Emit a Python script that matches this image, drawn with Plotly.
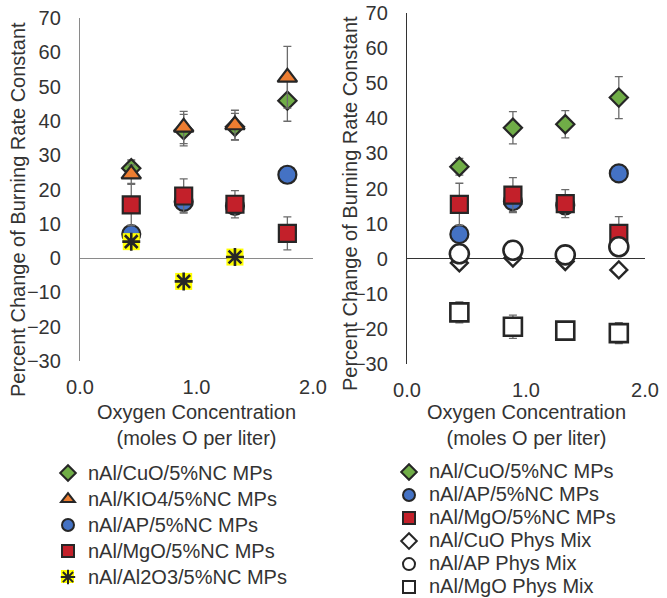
import plotly.graph_objects as go

# ---------------- data ----------------
oxygen_conc = [0.44, 0.89, 1.33, 1.78]

cuo_mp = [26.2, 37.3, 38.3, 45.9]
cuo_mp_err = [2.4, 4.6, 3.9, 6.0]
kio4_mp = [24.5, 38.1, 38.8, 52.7]
kio4_mp_err = [2.7, 4.7, 4.3, 9.0]
ap_mp = [7.0, 16.4, 15.2, 24.3]
ap_mp_err = [1.0, 3.0, 1.5, 1.5]
mgo_mp = [15.5, 18.1, 15.7, 7.2]
mgo_mp_err = [6.0, 5.0, 4.0, 4.8]
al2o3_mp = [4.8, -6.8, 0.3]

cuo_phys = [-1.2, 0.2, -0.8, -3.2]
ap_phys = [1.4, 2.4, 1.1, 3.4]
mgo_phys = [-15.3, -19.4, -20.5, -21.2]
mgo_phys_err = [3.0, 3.3, 1.0, 3.0]

names_left = ["nAl/CuO/5%NC MPs", "nAl/KIO4/5%NC MPs", "nAl/AP/5%NC MPs",
              "nAl/MgO/5%NC MPs", "nAl/Al2O3/5%NC MPs"]
names_right = ["nAl/CuO/5%NC MPs", "nAl/AP/5%NC MPs", "nAl/MgO/5%NC MPs",
               "nAl/CuO Phys Mix", "nAl/AP Phys Mix", "nAl/MgO Phys Mix"]

x_ticks = [0.0, 1.0, 2.0]
y_ticks = list(range(-30, 80, 10))
y_title = "Percent Change of Burning Rate Constant"
x_title = "Oxygen Concentration<br>(moles O per liter)"

# ---------------- style ----------------
FONT = "Liberation Sans, Arial, sans-serif"
TXT = "#333333"
EDGE = "#262626"
GREEN, ORANGE, BLUE, RED, YELLOW = "#70AD47", "#ED7D31", "#4472C4", "#C3202A", "#FFFF00"
ERRC = "#6b6b6b"

W, H = 667, 598


def err(arr):
    return dict(type="data", array=arr, visible=True, color=ERRC, thickness=1.3, width=4)


def span(t):
    return '<span style="font-size:20px">' + t + '</span>'


fig = go.Figure()

# left chart
fig.add_trace(go.Scatter(x=oxygen_conc, y=cuo_mp, mode="markers", name=span(names_left[0]),
                         error_y=err(cuo_mp_err), legend="legend", xaxis="x", yaxis="y",
                         marker=dict(symbol="diamond", size=14, color=GREEN, line=dict(color=EDGE, width=2.2))))
fig.add_trace(go.Scatter(x=oxygen_conc, y=kio4_mp, mode="markers", name=span(names_left[1]),
                         error_y=err(kio4_mp_err), legend="legend", xaxis="x", yaxis="y",
                         marker=dict(symbol="triangle-up", size=17, color=ORANGE, line=dict(color=EDGE, width=2.2))))
fig.add_trace(go.Scatter(x=oxygen_conc, y=ap_mp, mode="markers", name=span(names_left[2]),
                         error_y=err(ap_mp_err), legend="legend", xaxis="x", yaxis="y",
                         marker=dict(symbol="circle", size=18, color=BLUE, line=dict(color=EDGE, width=2.2))))
fig.add_trace(go.Scatter(x=oxygen_conc, y=mgo_mp, mode="markers", name=span(names_left[3]),
                         error_y=err(mgo_mp_err), legend="legend", xaxis="x", yaxis="y",
                         marker=dict(symbol="square", size=17, color=RED, line=dict(color=EDGE, width=2.2))))
fig.add_trace(go.Scatter(x=oxygen_conc[:len(al2o3_mp)], y=al2o3_mp, mode="markers", showlegend=False,
                         xaxis="x", yaxis="y", hoverinfo="skip",
                         marker=dict(symbol="square", size=17, color=YELLOW, line=dict(width=0))))
fig.add_trace(go.Scatter(x=oxygen_conc[:len(al2o3_mp)], y=al2o3_mp, mode="markers", name=span(names_left[4]),
                         legend="legend", xaxis="x", yaxis="y",
                         marker=dict(symbol="asterisk-open", size=15, color=EDGE, line=dict(color=EDGE, width=2.6))))

# right chart
fig.add_trace(go.Scatter(x=oxygen_conc, y=cuo_mp, mode="markers", name=span(names_right[0]),
                         error_y=err(cuo_mp_err), legend="legend2", xaxis="x2", yaxis="y2",
                         marker=dict(symbol="diamond", size=14, color=GREEN, line=dict(color=EDGE, width=2.2))))
fig.add_trace(go.Scatter(x=oxygen_conc, y=ap_mp, mode="markers", name=span(names_right[1]),
                         error_y=err(ap_mp_err), legend="legend2", xaxis="x2", yaxis="y2",
                         marker=dict(symbol="circle", size=18, color=BLUE, line=dict(color=EDGE, width=2.2))))
fig.add_trace(go.Scatter(x=oxygen_conc, y=mgo_mp, mode="markers", name=span(names_right[2]),
                         error_y=err(mgo_mp_err), legend="legend2", xaxis="x2", yaxis="y2",
                         marker=dict(symbol="square", size=17, color=RED, line=dict(color=EDGE, width=2.2))))
fig.add_trace(go.Scatter(x=oxygen_conc, y=cuo_phys, mode="markers", name=span(names_right[3]),
                         legend="legend2", xaxis="x2", yaxis="y2",
                         marker=dict(symbol="diamond", size=13, color="white", line=dict(color=EDGE, width=2.4))))
fig.add_trace(go.Scatter(x=oxygen_conc, y=ap_phys, mode="markers", name=span(names_right[4]),
                         legend="legend2", xaxis="x2", yaxis="y2",
                         marker=dict(symbol="circle", size=19, color="white", line=dict(color=EDGE, width=2.6))))
fig.add_trace(go.Scatter(x=oxygen_conc, y=mgo_phys, mode="markers", name=span(names_right[5]),
                         error_y=err(mgo_phys_err), legend="legend2", xaxis="x2", yaxis="y2",
                         marker=dict(symbol="square", size=18, color="white", line=dict(color=EDGE, width=2.6))))


def xax(domain, anchor):
    return dict(domain=domain, range=[0, 2], tickvals=x_ticks, tickformat=".1f",
                showgrid=False, zeroline=False, showline=False, ticks="",
                tickfont=dict(family=FONT, size=20, color=TXT), ticklabelstandoff=12,
                anchor=anchor, automargin=False, fixedrange=True)


def yax(domain, linecol, anchor):
    return dict(domain=domain, range=[-30, 70], tickvals=y_ticks, showgrid=False,
                zeroline=True, zerolinecolor=linecol, zerolinewidth=1.3,
                showline=True, linecolor=linecol, linewidth=1.3, ticks="",
                tickfont=dict(family=FONT, size=20, color=TXT), ticklabelstandoff=14,
                anchor=anchor, automargin=False, fixedrange=True)


lx = [80 / W, 313 / W]
rx = [407 / W, 645 / W]
ly = [1 - 361 / H, 1 - 18 / H]
ry = [1 - 364 / H, 1 - 13 / H]

annotations = []
for cx in [(lx[0] + lx[1]) / 2, (rx[0] + rx[1]) / 2]:
    annotations.append(dict(text=x_title, x=cx, y=1 - 425 / H, xref="paper", yref="paper",
                            showarrow=False, xanchor="center", yanchor="middle",
                            font=dict(family=FONT, size=20, color=TXT)))
for tx, ty in [(18 / W, 1 - 210 / H), (350 / W, 1 - 203 / H)]:
    annotations.append(dict(text=y_title, x=tx, y=ty, xref="paper", yref="paper",
                            showarrow=False, xanchor="center", yanchor="middle", textangle=-90,
                            font=dict(family=FONT, size=20, color=TXT)))

# yellow backing for the Al2O3 legend symbol (legend decoration)
shapes = [dict(type="rect", xref="paper", yref="paper", layer="above",
               x0=61 / W, x1=74 / W, y0=1 - 583 / H, y1=1 - 570 / H,
               fillcolor=YELLOW, line=dict(width=0))]

fig.update_layout(
    width=W, height=H, margin=dict(l=0, r=0, t=0, b=0, autoexpand=False),
    paper_bgcolor="white", plot_bgcolor="white",
    xaxis=xax(lx, "y"),
    yaxis=yax(ly, "#8a8a8a", "x"),
    xaxis2=xax(rx, "y2"),
    yaxis2=yax(ry, "#333333", "x2"),
    annotations=annotations,
    shapes=shapes,
    legend=dict(x=48 / W, y=1 - 455 / H, xanchor="left", yanchor="top",
                bgcolor="rgba(0,0,0,0)", font=dict(family=FONT, size=17.7, color=TXT),
                itemsizing="constant", tracegroupgap=0),
    legend2=dict(x=389 / W, y=1 - 455.5 / H, xanchor="left", yanchor="top",
                 bgcolor="rgba(0,0,0,0)", font=dict(family=FONT, size=15.4, color=TXT),
                 itemsizing="constant", tracegroupgap=0),
    showlegend=True,
)

fig.write_html("out.html", config={"displayModeBar": False},
               post_script="document.body.style.margin='0';document.body.style.overflow='hidden';")
